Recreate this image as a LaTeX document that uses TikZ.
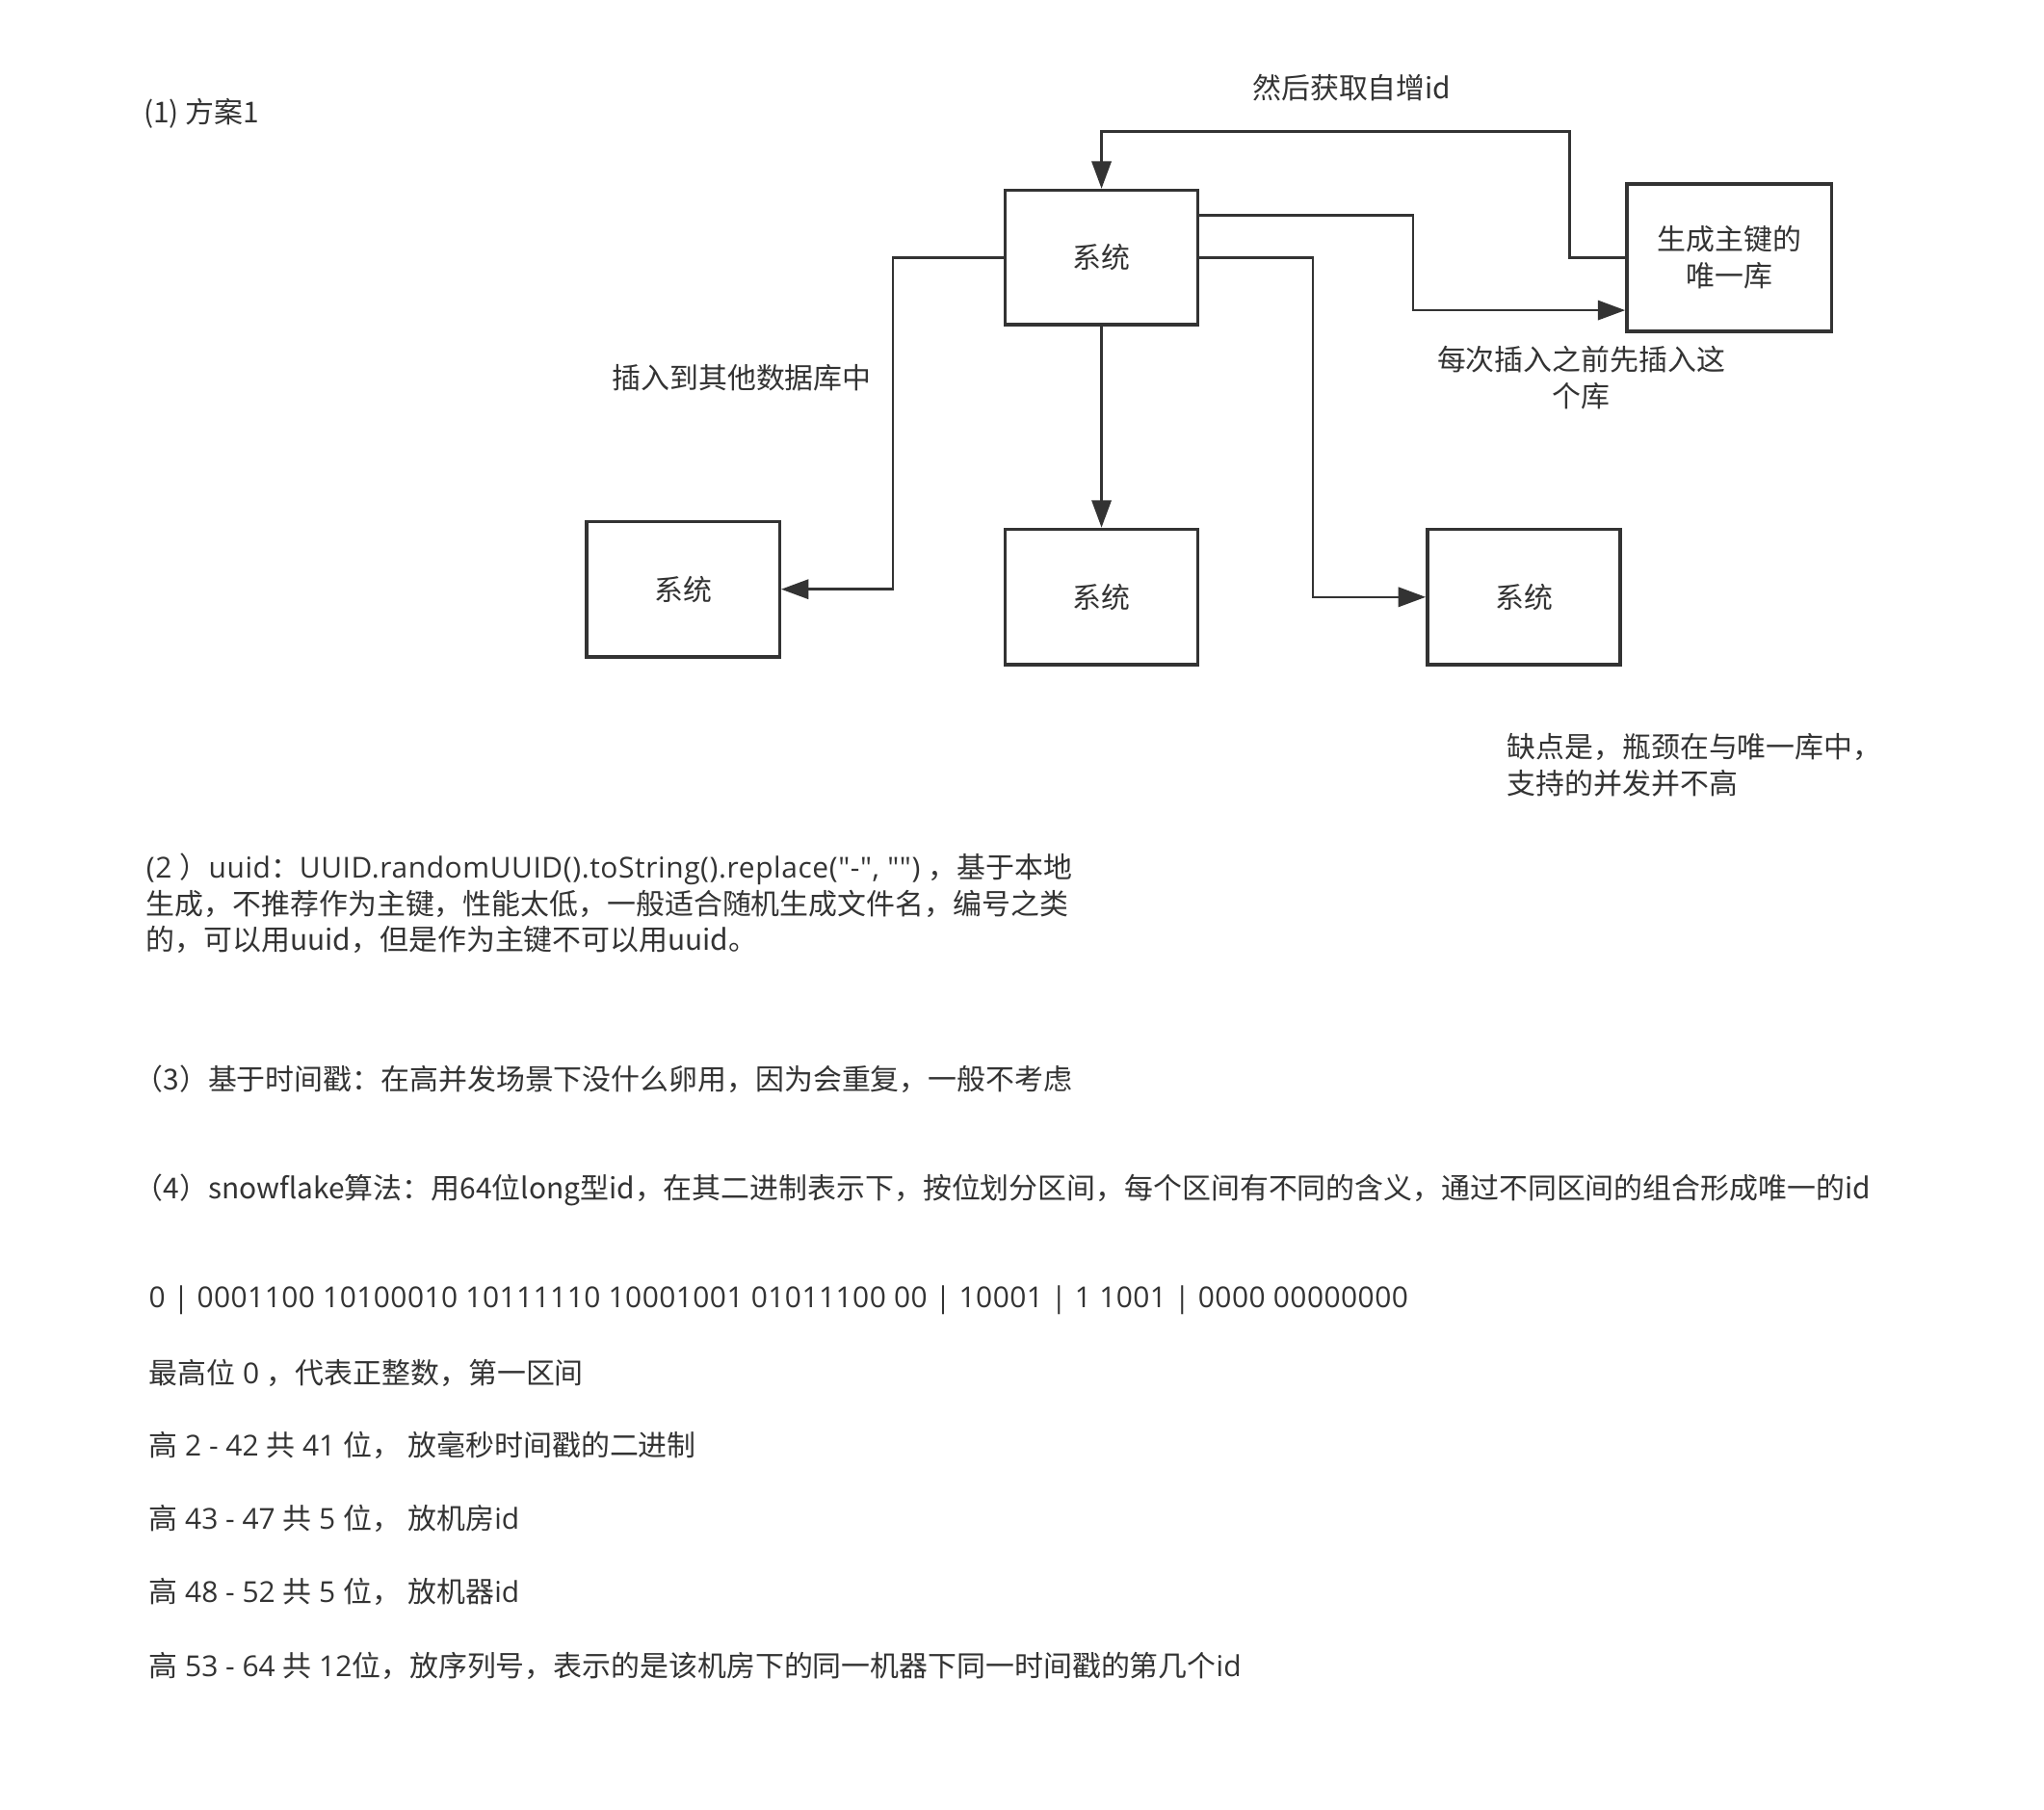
\documentclass[tikz,border=0pt]{standalone}
\usepackage{fontspec}
\setmainfont{Noto Sans CJK SC}[Ligatures=TeXOff]
\newfontfamily\lat{Open Sans}[Ligatures=TeXOff]
\newfontfamily\latw{Open Sans}[Ligatures=TeXOff,LetterSpace=1.5]
\newfontfamily\latu{Open Sans}[Ligatures=TeXOff,LetterSpace=2.0]
\usetikzlibrary{arrows.meta,calc}
\definecolor{ink}{HTML}{333333}
\begin{document}
\begin{tikzpicture}[x=1pt,y=-1pt,
  every node/.style={text=ink,font=\fontsize{22.1}{28}\selectfont,inner sep=0pt},
  box/.style={draw=ink,line width=2.6pt,fill=white,minimum width=148pt,minimum height=104pt},
  arr/.style={draw=ink,line width=1.9pt,-{Triangle[length=21pt,width=15pt]}},
  txt/.style={anchor=west,align=left}]
\useasboundingbox[fill=white] (0,0) rectangle (1568,1388);

% boxes
\node[box,minimum height=103pt] (A) at (845,197.5) {系统};
\node[box,minimum width=157pt,minimum height=113pt,align=center] (B) at (1326.5,197.5) {生成主键的\\唯一库};
\node[box] (C) at (524,452) {系统};
\node[box] (D) at (845,458) {系统};
\node[box] (E) at (1169,458) {系统};

% connectors
\coordinate (bturn) at (1204,101);
\draw[arr] (B.west) -| (bturn) -| (A.north);
\draw[arr] (A.east |- 0,165) -| (1084,238) -- (B.west |- 0,238);
\draw[arr] (A.east) -| (1007,458) -- (E.west);
\draw[arr] (A.west) -| (685,452) -- (C.east);
\draw[arr] (A.south) -- (D.north);

% labels
\node (t1) [txt] at (110,87) {(1) 方案1};
\node (l1) at (1037,67) {然后获取自增id};
\node (l2) at (569,290) {插入到其他数据库中};
\node (l3) [align=center] at (1213,289.5) {每次插入之前先插入这\\个库};
\node (l4) [txt] at (1156,587) {缺点是，瓶颈在与唯一库中，\\支持的并发并不高};

\node (p2) [txt] at (112,693) {{\latu(2 }）{\latu uuid}：{\latu UUID.randomUUID().toString().replace("-", "") }，基于本地\\生成，不推荐作为主键，性能太低，一般适合随机生成文件名，编号之类\\的，可以用uuid，但是作为主键不可以用uuid。};
\node (p3) [txt] at (103,828) {（3）基于时间戳：在高并发场景下没什么卵用，因为会重复，一般不考虑};
\node (p4) [txt] at (103,913) {（4）snowflake算法：用64位long型id，在其二进制表示下，按位划分区间，每个区间有不同的含义，通过不同区间的组合形成唯一的id};

\node (s0) [txt] at (114,997) {\latw 0 | 0001100 10100010 10111110 10001001 01011100 00 | 10001 | 1 1001 | 0000 00000000};
\node (s1) [txt] at (114,1053) {最高位{\lat\ 0 }，代表正整数，第一区间};
\node (s2) [txt] at (114,1109) {高{\lat\ 2 - 42 }共{\lat\ 41 }位，{\lat\ }放毫秒时间戳的二进制};
\node (s3) [txt] at (114,1165) {高{\lat\ 43 - 47 }共{\lat\ 5 }位，{\lat\ }放机房{\lat id}};
\node (s4) [txt] at (114,1221) {高{\lat\ 48 - 52 }共{\lat\ 5 }位，{\lat\ }放机器{\lat id}};
\node (s5) [txt] at (114,1278) {高{\lat\ 53 - 64 }共{\lat\ 12}位，放序列号，表示的是该机房下的同一机器下同一时间戳的第几个{\lat id}};
\end{tikzpicture}
\end{document}
